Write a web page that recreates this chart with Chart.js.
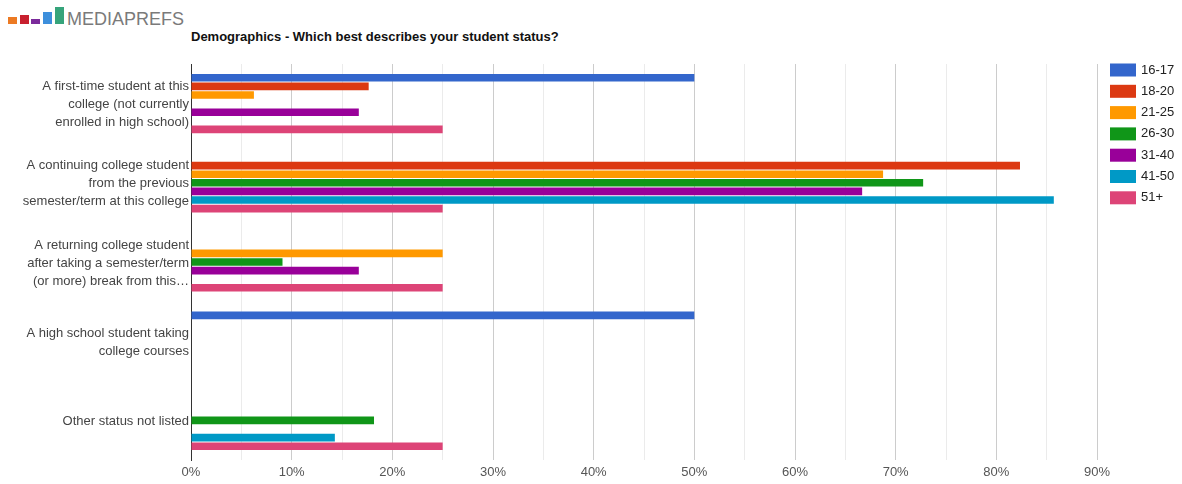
<!DOCTYPE html>
<html>
<head>
<meta charset="utf-8">
<title>Demographics - Which best describes your student status?</title>
<script src="https://cdn.jsdelivr.net/npm/chart.js@4.4.0/dist/chart.umd.min.js"></script>
<style>
  html, body { margin: 0; padding: 0; background: #fff; }
  body {
    width: 1182px; height: 484px; position: relative; overflow: hidden;
    font-family: Arial, "Liberation Sans", sans-serif;
  }
  .logo-bar { position: absolute; width: 9px; }
  #brand {
    position: absolute; left: 67px; top: 8px;
    font-size: 18px; line-height: 22px; color: #7a7a7a;
  }
  #title {
    position: absolute; left: 191px; top: 29px;
    font-size: 13px; line-height: 15px; font-weight: bold; color: #111;
  }
  #wrap { position: absolute; left: 0; top: 0; width: 1182px; height: 484px; }
</style>
</head>
<body>
<!-- brand mark -->
<div class="logo-bar" style="left:8px; top:17px; height:7px; background:#ec7a23"></div>
<div class="logo-bar" style="left:20px; top:15px; height:9px; background:#c8202f"></div>
<div class="logo-bar" style="left:31px; top:19px; height:5px; background:#7b2a9b"></div>
<div class="logo-bar" style="left:43px; top:12px; height:12px; background:#3d8fdc"></div>
<div class="logo-bar" style="left:55px; top:7px; height:17px; background:#36a47b"></div>
<div id="brand">MEDIAPREFS</div>
<div id="title">Demographics - Which best describes your student status?</div>

<div id="wrap"><canvas id="chart" width="1182" height="484"></canvas></div>

<script>
"use strict";

// Answer options (y axis), wrapped the way they are shown
const statusLabels = [
    ["A first-time student at this", "college (not currently", "enrolled in high school)"],
    ["A continuing college student", "from the previous", "semester/term at this college"],
    ["A returning college student", "after taking a semester/term", "(or more) break from this\u2026"],
    ["A high school student taking", "college courses"],
    ["Other status not listed"]
];

// Age groups and their colours
const ageGroups = ["16-17", "18-20", "21-25", "26-30", "31-40", "41-50", "51+"];
const ageColors = ["#3366cc", "#dc3912", "#ff9900", "#109618", "#990099", "#0099c6", "#dd4477"];

// Share of each age group picking each status (%)
const age16to17 = [50, 0, 0, 50, 0];
const age18to20 = [17.65, 82.35, 0, 0, 0];
const age21to25 = [6.25, 68.75, 25, 0, 0];
const age26to30 = [0, 72.73, 9.09, 0, 18.18];
const age31to40 = [16.67, 66.67, 16.67, 0, 0];
const age41to50 = [0, 85.71, 0, 0, 14.29];
const age51plus = [25, 25, 25, 0, 25];

// x axis: labelled every 10%, light grid every 5%
const xMax = 90;
const xStep = 5;
const xLabelEvery = 10;

const seriesValues = [age16to17, age18to20, age21to25, age26to30, age31to40, age41to50, age51plus];

const FONT = 'Arial, "Liberation Sans", sans-serif';

// Legend on the right, one swatch per age group
const sideLegend = {
    id: "sideLegend",
    afterDraw: function (chart) {
        const ctx = chart.ctx;
        const x = chart.chartArea.right + 13;
        const top = chart.chartArea.top + 6;
        ctx.save();
        ctx.font = "13px " + FONT;
        ctx.textBaseline = "middle";
        ctx.textAlign = "left";
        chart.data.datasets.forEach(function (ds, i) {
            const y = top + i * 21.3;
            ctx.fillStyle = ds.backgroundColor;
            ctx.fillRect(x, y - 6.5, 26, 13);
            ctx.fillStyle = "#222";
            ctx.fillText(ds.label, x + 31, y);
        });
        ctx.restore();
    }
};

const datasets = ageGroups.map(function (name, i) {
    return {
        label: name,
        data: seriesValues[i],
        backgroundColor: ageColors[i],
        borderWidth: 0,
        barPercentage: 0.88,
        categoryPercentage: 0.76
    };
});

new Chart(document.getElementById("chart").getContext("2d"), {
    type: "bar",
    data: { labels: statusLabels, datasets: datasets },
    options: {
        indexAxis: "y",
        responsive: false,
        animation: false,
        layout: { padding: { top: 64, right: 85, bottom: 0, left: 0 } },
        scales: {
            x: {
                min: 0,
                max: xMax,
                afterFit: function (scale) { scale.height = 24; },
                border: { display: false },
                grid: {
                    drawTicks: false,
                    color: function (c) {
                        const v = c.tick.value;
                        if (v === 0) return "#333";
                        return v % xLabelEvery === 0 ? "#cccccc" : "#ebebeb";
                    }
                },
                ticks: {
                    stepSize: xStep,
                    autoSkip: false,
                    maxRotation: 0,
                    padding: 5,
                    color: "#555",
                    font: { family: FONT, size: 13 },
                    callback: function (v) {
                        return v % xLabelEvery === 0 ? v + "%" : "";
                    }
                }
            },
            y: {
                // fixed label column; no extra room for the wrapped labels
                afterFit: function (scale) {
                    scale.width = 191;
                    scale.paddingTop = 0;
                    scale.paddingBottom = 0;
                },
                border: { color: "#333", width: 1 },
                grid: { display: false, drawTicks: false },
                ticks: {
                    padding: 2,
                    labelOffset: 1,
                    color: "#444",
                    font: { family: FONT, size: 13, lineHeight: 1.38 }
                }
            }
        },
        plugins: {
            legend: { display: false },
            title: { display: false },
            tooltip: { enabled: false }
        }
    },
    plugins: [sideLegend]
});
</script>
</body>
</html>
